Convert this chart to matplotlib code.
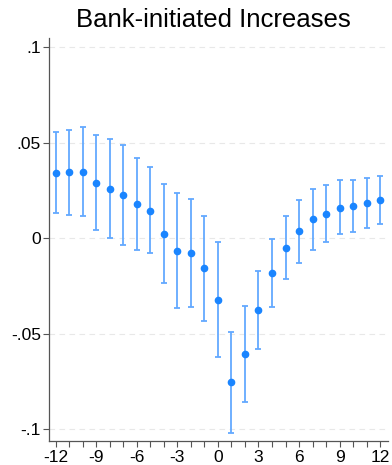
import numpy as np
import matplotlib
matplotlib.use("Agg")
import matplotlib.pyplot as plt

plt.rcParams['font.family'] = ['Liberation Sans', 'DejaVu Sans']
plt.rcParams['axes.unicode_minus'] = False

# event time relative to the increase
periods = list(range(-12, 13))
coef = [0.0342, 0.0344, 0.0347, 0.0290, 0.0258, 0.0223, 0.0178, 0.0143, 0.0023,
        -0.0066, -0.0079, -0.0159, -0.0323, -0.0756, -0.0607, -0.0377, -0.0185,
        -0.0051, 0.0035, 0.0098, 0.0127, 0.0160, 0.0168, 0.0183, 0.0197]
ci_hi = [0.0557, 0.0565, 0.0580, 0.0539, 0.0517, 0.0485, 0.0420, 0.0370, 0.0283,
         0.0234, 0.0203, 0.0117, -0.0021, -0.0490, -0.0354, -0.0171, -0.0007,
         0.0115, 0.0200, 0.0258, 0.0279, 0.0302, 0.0302, 0.0316, 0.0326]
ci_lo = [0.0131, 0.0120, 0.0117, 0.0042, 0.0002, -0.0035, -0.0063, -0.0080, -0.0237,
         -0.0365, -0.0360, -0.0435, -0.0623, -0.1020, -0.0859, -0.0581, -0.0363,
         -0.0215, -0.0129, -0.0060, -0.0023, 0.0019, 0.0033, 0.0054, 0.0072]

x = np.array(periods)
b = np.array(coef)
lo = np.array(ci_lo)
hi = np.array(ci_hi)

fig = plt.figure(figsize=(3.92, 4.65), dpi=100)
ax = fig.add_axes([0.1258, 0.051, 0.865, 0.8666])

ax.errorbar(x, b, yerr=[b - lo, hi - b], fmt='none', ecolor='#63a9ff',
            elinewidth=1.3, capsize=2.5, capthick=1.3, zorder=2)
ax.plot(x, b, 'o', color='#1a85ff', markersize=4.5, zorder=3)

ax.set_xlim(-12.46, 12.6)
ax.set_ylim(-0.1064, 0.1046)

yt = [-0.1, -0.05, 0, 0.05, 0.1]
ax.set_yticks(yt)
ax.set_yticklabels(['-.1', '-.05', '0', '.05', '.1'])
ax.set_xticks(range(-12, 13, 3))
ax.set_xticks(range(-12, 13), minor=True)
ax.yaxis.grid(True, linestyle=(0, (5, 4)), color='#e8e8e8', linewidth=0.8, zorder=0)
ax.set_axisbelow(True)

for s in ['top', 'right']:
    ax.spines[s].set_visible(False)
for s in ['left', 'bottom']:
    ax.spines[s].set_color('#555555')
    ax.spines[s].set_linewidth(0.9)

ax.tick_params(axis='both', which='major', labelsize=12.5, length=4, width=0.8,
               color='#555555', pad=2)
ax.tick_params(axis='x', which='minor', length=4, width=0.8, color='#555555')

ax.set_title('Bank-initiated Increases', fontsize=18.5, pad=8, x=0.485)

fig.savefig('out.png', dpi=100)
